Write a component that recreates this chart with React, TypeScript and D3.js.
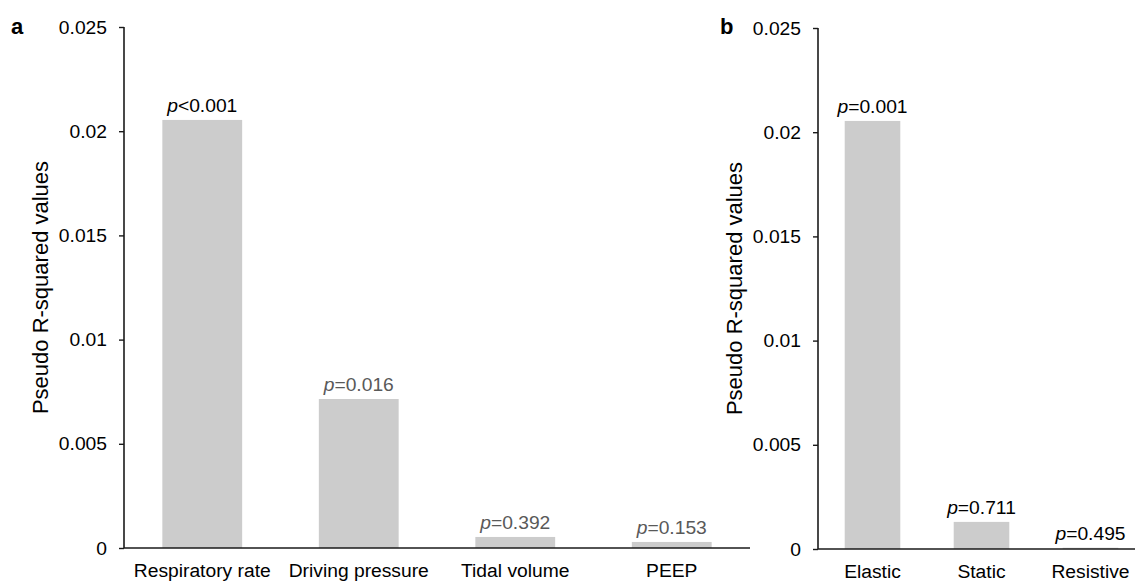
import React, { useEffect, useRef } from "react";
import * as d3 from "d3";

// panel a
const ventCategories = ["Respiratory rate", "Driving pressure", "Tidal volume", "PEEP"];
const ventValues = [0.02054, 0.00715, 0.00053, 0.00029];
const ventPLabels = ["<0.001", "=0.016", "=0.392", "=0.153"];

// panel b
const powerCategories = ["Elastic", "Static", "Resistive"];
const powerValues = [0.02054, 0.0013, 0.00006];
const powerPLabels = ["=0.001", "=0.711", "=0.495"];

const yTicks = [0, 0.005, 0.01, 0.015, 0.02, 0.025];

const W = 1135;
const H = 581;
const FONT = "'Liberation Sans', Arial, sans-serif";
const FS = 18;
const SX = 1.07; // source figure is slightly stretched horizontally

interface PanelSpec {
  letter: string;
  letterX: number;
  categories: string[];
  values: number[];
  pLabels: string[];
  pColors: string[];
  x0: number;
  x1: number;
  yTop: number;
  yBottom: number;
}

function drawPanel(svg: d3.Selection<SVGSVGElement, unknown, null, undefined>, p: PanelSpec) {
  const g = svg.append("g");

  const x = d3
    .scaleBand<string>()
    .domain(p.categories)
    .range([p.x0, p.x1])
    .paddingInner(0.49)
    .paddingOuter(0.245);

  const y = d3.scaleLinear().domain([0, 0.025]).range([p.yBottom, p.yTop]);

  // Bars
  g.append("g")
    .selectAll("rect")
    .data(p.values)
    .join("rect")
    .attr("x", (_, i) => x(p.categories[i]) || 0)
    .attr("y", (d) => y(d))
    .attr("width", x.bandwidth())
    .attr("height", (d) => y(0) - y(d))
    .attr("fill", "#cccccc");

  // p-value labels
  g.append("g")
    .selectAll("text")
    .data(p.values)
    .join("text")
    .attr(
      "transform",
      (d, i) =>
        `translate(${(x(p.categories[i]) || 0) + x.bandwidth() / 2},${y(d) - 8}) scale(${SX},1)`
    )
    .attr("text-anchor", "middle")
    .attr("font-family", FONT)
    .attr("font-size", FS)
    .attr("fill", (_, i) => p.pColors[i])
    .each(function (_, i) {
      const t = d3.select(this);
      t.append("tspan").attr("font-style", "italic").text("p");
      t.append("tspan").text(p.pLabels[i]);
    });

  // Y axis
  const yAxis = g
    .append("g")
    .attr("transform", `translate(${p.x0},0)`)
    .call(
      d3
        .axisLeft(y)
        .tickValues(yTicks)
        .tickSize(5)
        .tickFormat((d) => String(+(+d).toFixed(3)))
    );
  yAxis.select(".domain").attr("stroke", "#1a1a1a").attr("stroke-width", 1.6).attr("d", `M0,${p.yTop}V${p.yBottom}`);
  yAxis.selectAll(".tick line").attr("stroke", "#1a1a1a").attr("stroke-width", 1.4);
  yAxis
    .selectAll(".tick text")
    .attr("x", null)
    .attr("dy", "0.34em")
    .attr("transform", `translate(-17,0) scale(${SX},1)`)
    .attr("font-family", FONT)
    .attr("font-size", FS)
    .attr("fill", "#000");

  // X axis
  const xAxis = g
    .append("g")
    .attr("transform", `translate(0,${p.yBottom})`)
    .call(d3.axisBottom(x).tickSize(0).tickPadding(0));
  xAxis.select(".domain").attr("stroke", "#1a1a1a").attr("stroke-width", 1.6).attr("d", `M${p.x0},0H${p.x1}`);
  xAxis
    .selectAll(".tick text")
    .attr("y", null)
    .attr("dy", null)
    .attr("transform", `translate(0,29) scale(${SX},1)`)
    .attr("font-family", FONT)
    .attr("font-size", FS)
    .attr("fill", "#000");

  // Y axis title
  svg
    .append("text")
    .attr("transform", `translate(${p.x0 - 76},${(p.yTop + p.yBottom) / 2}) rotate(-90)`)
    .attr("text-anchor", "middle")
    .attr("font-family", FONT)
    .attr("font-size", 22)
    .attr("fill", "#000")
    .text("Pseudo R-squared values");

  // Panel letter
  svg
    .append("text")
    .attr("x", p.letterX)
    .attr("y", 34)
    .attr("font-family", FONT)
    .attr("font-weight", "bold")
    .attr("font-size", 22)
    .attr("fill", "#000")
    .text(p.letter);
}

export default function App() {
  const svgRef = useRef<SVGSVGElement | null>(null);

  useEffect(() => {
    const svg = d3.select(svgRef.current as SVGSVGElement);
    svg.selectAll("*").remove();

    drawPanel(svg, {
      letter: "a",
      letterX: 11,
      categories: ventCategories,
      values: ventValues,
      pLabels: ventPLabels,
      pColors: ["#000", "#595959", "#595959", "#595959"],
      x0: 124,
      x1: 750,
      yTop: 27,
      yBottom: 548,
    });

    drawPanel(svg, {
      letter: "b",
      letterX: 720,
      categories: powerCategories,
      values: powerValues,
      pLabels: powerPLabels,
      pColors: ["#000", "#000", "#000"],
      x0: 818,
      x1: 1145,
      yTop: 28,
      yBottom: 549,
    });
  }, []);

  return (
    <svg
      ref={svgRef}
      width={W}
      height={H}
      style={{ position: "absolute", left: 0, top: 0, background: "#fff" }}
    />
  );
}
